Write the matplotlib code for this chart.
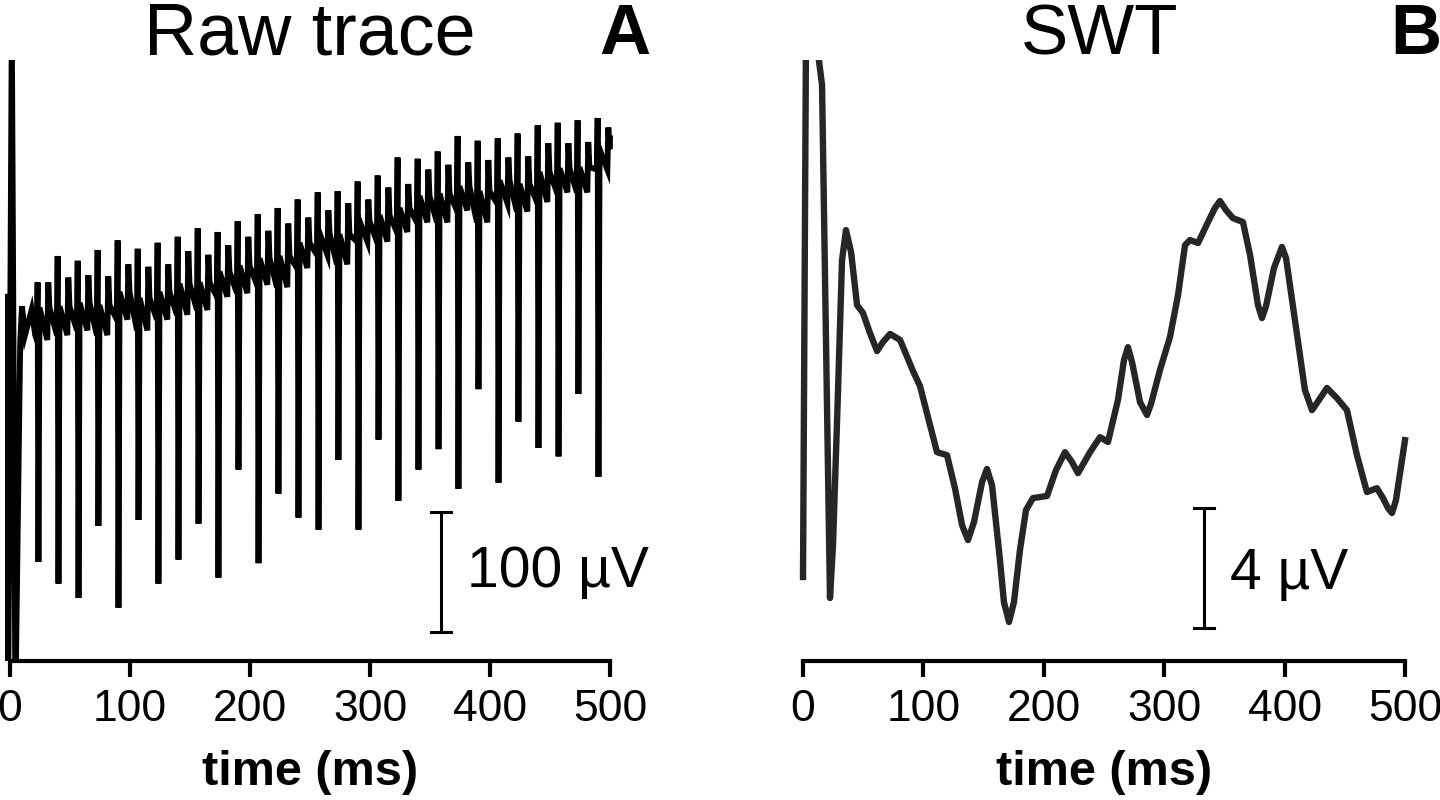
import matplotlib
matplotlib.use("Agg")
import matplotlib.pyplot as plt

plt.rcParams['font.family'] = ['Liberation Sans', 'DejaVu Sans']

# ---- panel A: raw trace (uV), one 60 Hz artifact per period ----
spike_t = [23.3, 40.0, 56.7, 73.3, 90.0, 106.7, 123.3, 140.0, 156.7, 173.3,
           190.0, 206.7, 223.3, 240.0, 256.7, 273.3, 290.0, 306.7, 323.3, 340.0,
           356.7, 373.3, 390.0, 406.7, 423.3, 440.0, 456.7, 473.3, 490.0]
peak_top = [23, 45, 41, 50, 58, 51, 56, 61, 68, 65, 74, 80, 85, 92, 98,
            99, 107, 112, 127, 126, 132, 145, 141, 143, 147, 154, 156, 158, 160]
peak_bot = [-210, -228, -240, -180, -248, -175, -228, -208, -178, -223, -133,
            -211, -153, -173, -183, -125, -183, -108, -159, -133, -116, -149,
            -66, -144, -93, -115, -122, -70, -139]
ret_lvl = [2, 3, 6, 4, 15, 10, 15, 22, 23, 32, 37, 43, 45, 56, 64, 63, 74,
           79, 85, 95, 97, 103, 99, 108, 105, 115, 118, 119, 134]
low_lvl = [-25, -21, -17, -21, -8, -17, -8, -4, 0, 11, 14, 21, 19, 35, 46,
           38, 57, 57, 65, 73, 73, 83, 73, 89, 82, 90, 98, 98, 117]
sec_top = [23, 27, 29, 28, 38, 36, 38, 49, 46, 54, 61, 66, 72, 77, 83, 89,
           92, 102, 105, 117, 121, 123, 125, 127, 128, 139, 139, 140, 152]
start_t = [-2.5, -1.5, 1.5, 4.5, 8.5, 10.0, 12.5, 18.0, 21.0]
start_v = [11, -330, 240, -330, -27, 3, -21, 0, -21]
end_t, end_v = 500.0, 143

# ---- panel B: SWT output (uV) ----
swt_t = [0.0, 2.5, 10.0, 15.8, 22.4, 24.9, 29.1, 32.4, 35.7, 39.9, 44.9, 49.8,
         55.6, 61.5, 66.4, 72.3, 80.6, 91.4, 97.2, 105.5, 111.3, 119.6, 126.2,
         132.1, 137.0, 142.0, 148.7, 152.8, 157.0, 163.6, 166.9, 171.1, 175.2,
         180.2, 185.2, 191.0, 202.7, 210.1, 217.6, 223.4, 228.4, 238.4, 246.7,
         253.3, 261.6, 266.6, 269.9, 273.3, 279.9, 285.7, 289.0, 296.5, 304.8,
         311.5, 317.3, 321.4, 328.1, 336.4, 342.2, 346.3, 351.3, 357.1, 365.4,
         371.3, 377.9, 381.2, 384.6, 391.2, 397.8, 401.2, 408.6, 416.9, 422.8,
         426.9, 435.2, 443.5, 451.8, 460.1, 468.4, 476.7, 481.7, 485.9, 489.2,
         492.5, 500.0]
swt_v = [-5.23, 13.0, 13.0, 11.17, -5.93, -4.17, 1.0, 5.33, 6.33, 5.6, 3.83,
         3.57, 2.9, 2.3, 2.6, 2.87, 2.67, 1.63, 1.13, -0.17, -1.07, -1.17,
         -2.27, -3.5, -4.0, -3.4, -2.07, -1.63, -2.17, -4.67, -6.07, -6.73,
         -6.07, -4.33, -3.0, -2.6, -2.53, -1.67, -1.07, -1.4, -1.77, -1.07,
         -0.57, -0.73, 0.67, 2.0, 2.43, 1.93, 0.6, 0.17, 0.53, 1.67, 2.77,
         4.17, 5.83, 6.0, 5.9, 6.6, 7.07, 7.3, 7.0, 6.73, 6.6, 5.5, 3.83, 3.4,
         3.8, 5.07, 5.77, 5.4, 3.33, 1.0, 0.33, 0.57, 1.07, 0.73, 0.33, -1.17,
         -2.4, -2.27, -2.6, -2.93, -3.1, -2.67, -0.67]

xticks = [0, 100, 200, 300, 400, 500]

# build the raw trace polyline from the read values
raw_t = list(start_t)
raw_v = list(start_v)
for k in range(len(spike_t)):
    tk = spike_t[k]
    raw_t += [tk - 0.9, tk - 0.3, tk + 0.4, tk + 1.3, tk + 7.8, tk + 8.6,
              tk + 9.6]
    raw_v += [low_lvl[k], peak_top[k], peak_bot[k], ret_lvl[k], low_lvl[k],
              sec_top[k], ret_lvl[k]]
raw_t.append(end_t)
raw_v.append(end_v)

fig = plt.figure(figsize=(14.4, 8), dpi=100)
b, h = 139 / 800, 601 / 800
ax1 = fig.add_axes([5.2 / 1440, b, 609.6 / 1440, h])
ax2 = fig.add_axes([798.2 / 1440, b, 611.6 / 1440, h])


def style(ax):
    ax.set_xlim(-4, 504)
    for s in ['left', 'top', 'right']:
        ax.spines[s].set_visible(False)
    ax.spines['bottom'].set_linewidth(3)
    ax.spines['bottom'].set_bounds(0, 500)
    ax.set_yticks([])
    ax.set_xticks(xticks)
    ax.set_xticklabels([str(x) for x in xticks])
    ax.tick_params(axis='x', direction='out', length=11.5, width=3,
                   labelsize=32, pad=9)
    ax.set_xlabel('time (ms)', fontsize=35, fontweight='bold', labelpad=14)


ax1.plot(raw_t, raw_v, color='black', lw=4.2, solid_joinstyle='miter')
ax1.set_ylim(-292.5, 208.3)
style(ax1)

ax2.plot(swt_t, swt_v, color='#262626', lw=4.6, solid_joinstyle='round')
ax2.set_ylim(-8.03, 12.0)
style(ax2)

# scale bars
def scalebar(ax, x, y0, y1, half, label, dx, dy):
    ax.plot([x, x], [y0, y1], color='black', lw=2.2, solid_capstyle='butt')
    ax.plot([x - half, x + half], [y0, y0], color='black', lw=2.2)
    ax.plot([x - half, x + half], [y1, y1], color='black', lw=2.2)
    ax.annotate(label, xy=(x, (y0 + y1) / 2), xytext=(dx, dy),
                textcoords='offset points', fontsize=41, va='baseline',
                ha='left')

scalebar(ax1, 359, -268.3, -168.3, 8.3, '100 µV', 19, -11)
scalebar(ax2, 333, -6.93, -2.93, 8.3, '4 µV', 18.5, -15)

# titles and panel letters
fig.text(310 / 1440, 0.932, 'Raw trace', fontsize=53, ha='center',
         va='baseline')
fig.text(1100 / 1440, 0.932, 'SWT', fontsize=51, ha='center', va='baseline')
fig.text(650 / 1440, 0.932, 'A', fontsize=51, fontweight='bold', ha='right',
         va='baseline')
fig.text(1390 / 1440, 0.932, 'B', fontsize=51, fontweight='bold', ha='left',
         va='baseline')

fig.savefig('out.png', dpi=100)
